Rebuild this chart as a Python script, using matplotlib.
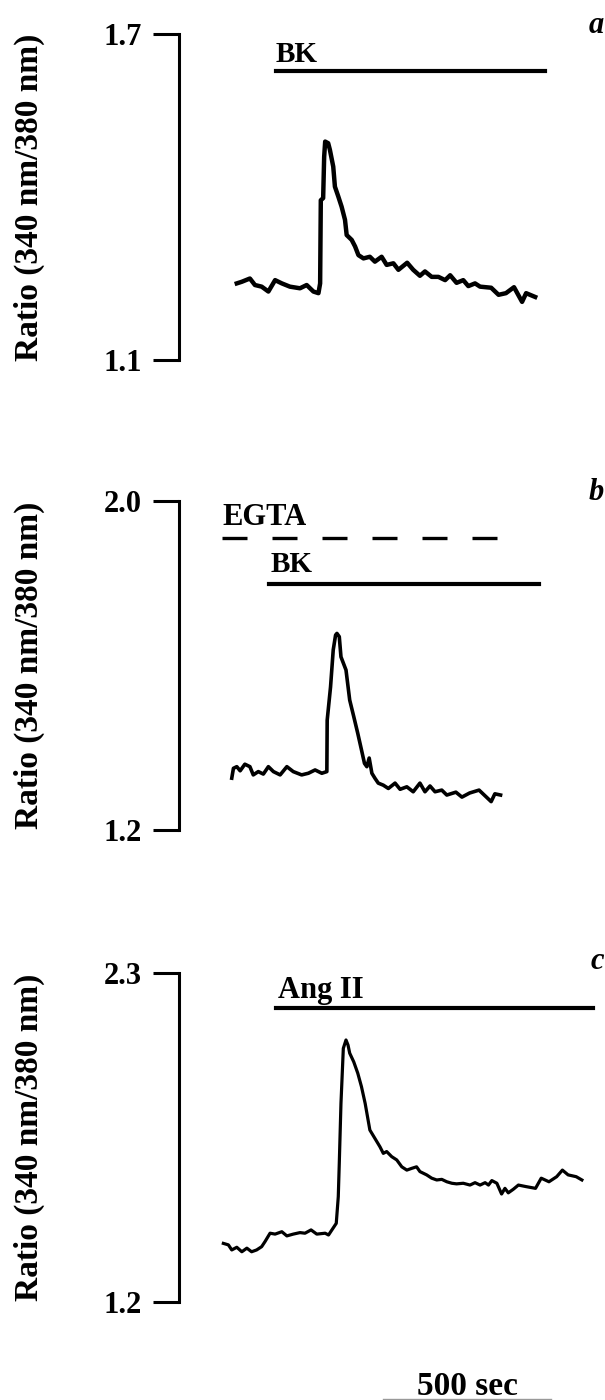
import matplotlib
matplotlib.use('Agg')
import matplotlib.pyplot as plt

plt.rcParams['font.family'] = ['Liberation Serif', 'DejaVu Serif']
plt.rcParams['font.weight'] = 'bold'
plt.rcParams['axes.labelweight'] = 'bold'

# panel a: BK (time in sec, fura-2 ratio)
time_a = [172, 187, 211, 226, 246, 266, 286, 306, 330, 360, 380, 400, 415, 420, 422, 429, 432, 435,
          444, 449, 459, 464, 474, 484, 494, 499, 514, 524, 534, 549, 568, 583, 603, 618, 638, 653,
          679, 697, 717, 732, 752, 772, 792, 807, 826, 846, 861, 881, 896, 929, 951, 973, 997, 1021,
          1033, 1060]
ratio_a = [1.241, 1.244, 1.250, 1.238, 1.235, 1.226, 1.247, 1.241, 1.235, 1.232, 1.238, 1.226, 1.223,
           1.241, 1.394, 1.398, 1.474, 1.502, 1.499, 1.487, 1.456, 1.419, 1.401, 1.382, 1.358, 1.330,
           1.321, 1.309, 1.293, 1.287, 1.290, 1.281, 1.290, 1.275, 1.278, 1.266, 1.279, 1.266, 1.255,
           1.263, 1.253, 1.253, 1.247, 1.256, 1.242, 1.247, 1.236, 1.241, 1.235, 1.233, 1.220, 1.223,
           1.234, 1.207, 1.223, 1.216]

# panel b: EGTA + BK
time_b = [157, 162, 172, 182, 196, 211, 221, 236, 251, 266, 281, 301, 321, 340, 365, 385, 405, 425,
          440, 441, 451, 459, 466, 470, 477, 482, 497, 508, 520, 532, 543, 552, 559, 566, 574, 583,
          593, 608, 623, 643, 658, 678, 697, 717, 732, 747, 762, 782, 797, 824, 842, 865, 893, 911,
          929, 940, 957]
ratio_b = [1.326, 1.350, 1.354, 1.344, 1.360, 1.354, 1.334, 1.342, 1.336, 1.354, 1.342, 1.334, 1.354,
           1.342, 1.334, 1.338, 1.346, 1.338, 1.342, 1.467, 1.548, 1.638, 1.674, 1.678, 1.670, 1.621,
           1.589, 1.516, 1.476, 1.435, 1.395, 1.362, 1.354, 1.375, 1.338, 1.326, 1.314, 1.309, 1.301,
           1.314, 1.299, 1.305, 1.293, 1.314, 1.293, 1.307, 1.293, 1.297, 1.285, 1.292, 1.280, 1.290,
           1.297, 1.283, 1.269, 1.288, 1.285]

# panel c: Ang II
time_c = [132, 147, 157, 172, 187, 202, 216, 231, 246, 256, 271, 286, 306, 321, 340, 360, 375, 393,
          410, 435, 445, 468, 474, 477, 482, 485, 489, 497, 503, 508, 520, 532, 543, 554, 568, 583,
          598, 608, 618, 633, 648, 663, 678, 693, 707, 717, 737, 752, 767, 782, 797, 812, 826, 846,
          866, 881, 896, 911, 921, 931, 946, 960, 970, 980, 995, 1010, 1032, 1061, 1078, 1101, 1124,
          1141, 1158, 1182, 1199]
ratio_c = [1.396, 1.391, 1.374, 1.383, 1.368, 1.380, 1.368, 1.374, 1.385, 1.402, 1.430, 1.427, 1.435,
           1.421, 1.427, 1.432, 1.430, 1.441, 1.427, 1.430, 1.424, 1.463, 1.552, 1.664, 1.864, 1.942,
           2.048, 2.076, 2.059, 2.032, 2.003, 1.965, 1.920, 1.864, 1.775, 1.747, 1.719, 1.697, 1.703,
           1.686, 1.675, 1.652, 1.641, 1.647, 1.652, 1.636, 1.625, 1.614, 1.608, 1.610, 1.602, 1.597,
           1.595, 1.597, 1.591, 1.599, 1.591, 1.599, 1.591, 1.606, 1.597, 1.561, 1.580, 1.565, 1.577,
           1.591, 1.586, 1.580, 1.614, 1.602, 1.619, 1.641, 1.625, 1.619, 1.608]

# y ranges shown by the scale bars
ylims = [(1.1, 1.7), (1.2, 2.0), (1.2, 2.3)]
letters = ['a', 'b', 'c']

# application periods (sec)
bk_a = (288, 1089)
egta_b = (128, 946)
bk_b = (267, 1070)
ang_c = (288, 1233)
scale_sec = 500

W, H = 605, 1400
fig = plt.figure(figsize=(W / 100, H / 100), dpi=100)

# axes boxes in pixels: (top, bottom)
boxes = [(34, 360), (501, 830), (973, 1302)]
left = 179
axes = []
for (top, bot), (lo, hi), letter in zip(boxes, ylims, letters):
    ax = fig.add_axes([left / W, 1 - bot / H, (W - left) / W, (bot - top) / H])
    ax.set_xlim(0, (W - left) * 2.976)
    ax.set_ylim(lo, hi)
    for s in ['top', 'right', 'bottom']:
        ax.spines[s].set_visible(False)
    ax.spines['left'].set_linewidth(2.2)
    ax.set_xticks([])
    ax.set_yticks([lo, hi])
    ax.set_yticklabels(['%.1f' % lo, '%.1f' % hi])
    ax.tick_params(axis='y', direction='out', length=19, width=2.2, pad=8, labelsize=22)
    ax.set_ylabel('Ratio (340 nm/380 nm)', fontsize=24, fontweight='bold', va='center')
    ax.yaxis.set_label_coords(-0.352, 0.5)
    ax.patch.set_alpha(0)
    ax.text(0.997, 1.025 if letter != 'c' else 1.036, letter, transform=ax.transAxes,
            ha='right', va='center', fontsize=22, style='italic')
    axes.append(ax)

ax_a, ax_b, ax_c = axes

# traces
ax_a.plot(time_a, ratio_a, color='black', lw=3.2, clip_on=False, solid_joinstyle='round')
ax_b.plot(time_b, ratio_b, color='black', lw=2.6, clip_on=False, solid_joinstyle='round')
ax_c.plot(time_c, ratio_c, color='black', lw=2.3, clip_on=False, solid_joinstyle='round')

# drug bars
ax_a.plot(bk_a, [1.632, 1.632], color='black', lw=3, clip_on=False)
ax_a.text(bk_a[0], 1.6485, 'BK', fontsize=21, ha='left', va='baseline')

ax_b.plot(egta_b, [1.909, 1.909], color='black', lw=2.4, clip_on=False,
          linestyle=(0, (7.5, 7.5)))
ax_b.text(egta_b[0], 1.9416, 'EGTA', fontsize=22, ha='left', va='baseline')
ax_b.plot(bk_b, [1.797, 1.797], color='black', lw=3, clip_on=False)
ax_b.text(bk_b[0] + 5, 1.828, 'BK', fontsize=21, ha='left', va='baseline')

ax_c.plot(ang_c, [2.182, 2.182], color='black', lw=3, clip_on=False)
ax_c.text(ang_c[0] + 8, 2.216, 'Ang II', fontsize=22, ha='left', va='baseline')

# time scale bar
x0 = 607
ax_c.plot([x0, x0 + scale_sec], [0.876, 0.876], color='#999999', lw=1, clip_on=False)
ax_c.text(x0 + scale_sec / 2, 0.889, '%d sec' % scale_sec, fontsize=24,
          ha='center', va='baseline')

fig.savefig('out.png', dpi=100)
